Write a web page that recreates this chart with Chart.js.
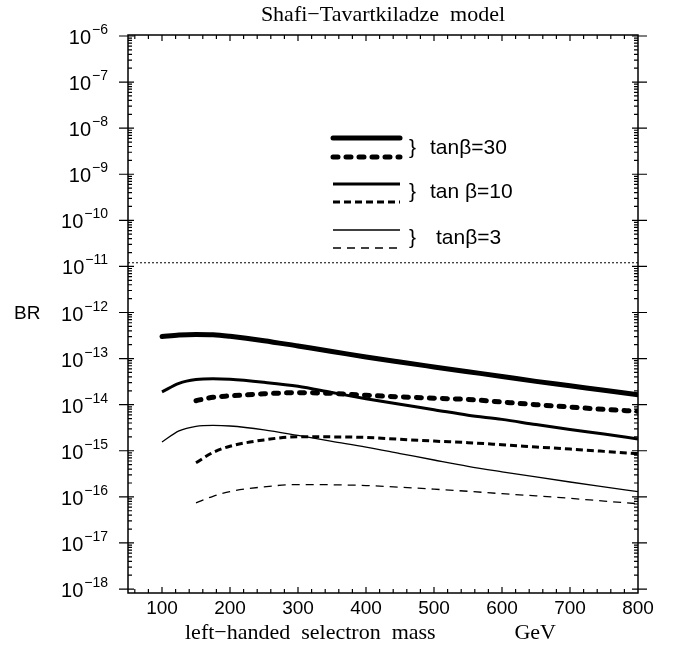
<!DOCTYPE html>
<html>
<head>
<meta charset="utf-8">
<title>Shafi-Tavartkiladze model</title>
<script src="https://cdn.jsdelivr.net/npm/chart.js@4.4.1/dist/chart.umd.min.js"></script>
<style>
  html, body { margin: 0; padding: 0; background: #fff; }
</style>
</head>
<body>
<canvas id="grafico" width="689" height="650"></canvas>
<script>
// selectron mass (GeV)
const masses = [100, 125, 150, 175, 200, 250, 300, 350, 400, 450, 500, 550, 600, 650, 700, 750, 800];

// BR values (null = curve not drawn there)
const tan30Solid  = [3.0e-13, 3.25e-13, 3.35e-13, 3.3e-13, 3.05e-13, 2.45e-13, 1.87e-13, 1.43e-13, 1.08e-13, 8.4e-14, 6.6e-14, 5.2e-14, 4.1e-14, 3.2e-14, 2.57e-14, 2.05e-14, 1.65e-14];
const tan30Dashed = [null, null, 1.22e-14, 1.45e-14, 1.55e-14, 1.72e-14, 1.82e-14, 1.76e-14, 1.6e-14, 1.48e-14, 1.38e-14, 1.3e-14, 1.14e-14, 1.0e-14, 8.9e-15, 7.9e-15, 7.2e-15];
const tan10Solid  = [1.9e-14, 2.9e-14, 3.5e-14, 3.65e-14, 3.55e-14, 3.05e-14, 2.5e-14, 1.83e-14, 1.35e-14, 1.02e-14, 7.8e-15, 5.9e-15, 4.8e-15, 3.7e-15, 2.9e-15, 2.3e-15, 1.8e-15];
const tan10Dashed = [null, null, 5.5e-16, 9.2e-16, 1.25e-15, 1.72e-15, 2.02e-15, 2.0e-15, 1.95e-15, 1.77e-15, 1.62e-15, 1.5e-15, 1.35e-15, 1.21e-15, 1.09e-15, 9.7e-16, 8.6e-16];
const tan3Solid   = [1.55e-15, 2.7e-15, 3.4e-15, 3.55e-15, 3.45e-15, 2.85e-15, 2.15e-15, 1.6e-15, 1.2e-15, 8.7e-16, 6.3e-16, 4.6e-16, 3.5e-16, 2.7e-16, 2.1e-16, 1.65e-16, 1.3e-16];
const tan3Dashed  = [null, null, 7.4e-17, 1.03e-16, 1.3e-16, 1.65e-16, 1.85e-16, 1.83e-16, 1.76e-16, 1.62e-16, 1.47e-16, 1.32e-16, 1.17e-16, 1.05e-16, 9.3e-17, 8.1e-17, 7.1e-17];

// experimental bound (dotted line)
const brLimit = 1.2e-11;
const limitRange = [50, 800];

// axis ticks
const xTickValues = [100, 200, 300, 400, 500, 600, 700, 800];
const yExponents = [-18, -17, -16, -15, -14, -13, -12, -11, -10, -9, -8, -7, -6];

const toPoints = vals => masses
    .map((m, i) => ({ x: m, y: vals[i] }))
    .filter(p => p.y !== null);

const curva = (label, vals, width, dash, cap) => ({
    label: label,
    data: toPoints(vals),
    borderColor: '#000',
    backgroundColor: '#000',
    borderWidth: width,
    borderDash: dash,
    borderCapStyle: cap,
    pointRadius: 0,
    fill: false,
    cubicInterpolationMode: 'monotone'
});

const legendRows = [
    { text: 'tanβ=30', solid: 0, dashed: 1, ySolid: 138, yDashed: 157, yText: 148, xText: 430 },
    { text: 'tan β=10', solid: 2, dashed: 3, ySolid: 184, yDashed: 202, yText: 192, xText: 430 },
    { text: 'tanβ=3', solid: 4, dashed: 5, ySolid: 230, yDashed: 248, yText: 238, xText: 436 }
];

// frame, inward ticks, superscript labels, titles and the bracket legend
const moldura = {
    id: 'moldura',
    afterDraw(chart) {
        const { ctx, chartArea: a, scales: { x, y } } = chart;
        ctx.save();
        ctx.strokeStyle = '#000';
        ctx.fillStyle = '#000';
        ctx.setLineDash([]);
        ctx.lineCap = 'butt';

        ctx.lineWidth = 1.5;
        ctx.strokeRect(a.left, a.top, a.right - a.left, a.bottom - a.top);

        ctx.lineWidth = 1.2;
        ctx.beginPath();
        yExponents.forEach(e => {
            const py = y.getPixelForValue(Math.pow(10, e));
            ctx.moveTo(a.left - 9, py); ctx.lineTo(a.left + 6, py);
            ctx.moveTo(a.right - 6, py); ctx.lineTo(a.right + 9, py);
            if (e < -6) {
                for (let k = 2; k <= 9; k++) {
                    const pm = y.getPixelForValue(k * Math.pow(10, e));
                    ctx.moveTo(a.left, pm); ctx.lineTo(a.left + 4, pm);
                    ctx.moveTo(a.right - 4, pm); ctx.lineTo(a.right, pm);
                }
            }
        });
        for (let v = 60; v < 800; v += 20) {
            const px = x.getPixelForValue(v);
            const len = v % 100 === 0 ? 6 : 4;
            ctx.moveTo(px, a.bottom); ctx.lineTo(px, a.bottom - len);
            ctx.moveTo(px, a.top); ctx.lineTo(px, a.top + len);
        }
        ctx.stroke();

        // y labels 10^n
        ctx.textAlign = 'right';
        ctx.textBaseline = 'alphabetic';
        yExponents.forEach(e => {
            const py = y.getPixelForValue(Math.pow(10, e));
            const exp = '\u2212' + Math.abs(e);
            ctx.font = '14px "Liberation Sans"';
            const w = ctx.measureText(exp).width;
            ctx.fillText(exp, 108, py - 2);
            ctx.font = '20px "Liberation Sans"';
            ctx.fillText('10', 108 - w - 1, py + 8);
        });

        ctx.textAlign = 'left';
        ctx.font = '19px "Liberation Sans"';
        ctx.fillText('BR', 14, 319);

        ctx.textAlign = 'center';
        ctx.font = '22px "Liberation Serif"';
        ctx.fillText('Shafi\u2212Tavartkiladze  model', (a.left + a.right) / 2, 21);

        ctx.textAlign = 'left';
        ctx.fillText('left\u2212handed  selectron  mass', 185, 639);
        ctx.textAlign = 'right';
        ctx.fillText('GeV', 556, 639);

        // legend
        legendRows.forEach(r => {
            [[r.solid, r.ySolid], [r.dashed, r.yDashed]].forEach(([i, ly]) => {
                const ds = chart.data.datasets[i];
                ctx.lineWidth = ds.borderWidth;
                ctx.setLineDash(ds.borderDash);
                ctx.lineCap = ds.borderCapStyle;
                ctx.beginPath();
                ctx.moveTo(333, ly);
                ctx.lineTo(400, ly);
                ctx.stroke();
            });
            ctx.setLineDash([]);
            ctx.textAlign = 'left';
            ctx.textBaseline = 'middle';
            ctx.font = '21px "Liberation Sans"';
            ctx.fillText('}', 409, r.yText);
            ctx.fillText(r.text, r.xText, r.yText);
        });
        ctx.restore();
    }
};

const ctx = document.getElementById('grafico').getContext('2d');

new Chart(ctx, {
    type: 'line',
    data: {
        datasets: [
            curva('tanβ=30', tan30Solid, 5, [], 'round'),
            curva('tanβ=30 dashed', tan30Dashed, 5, [5, 8], 'round'),
            curva('tanβ=10', tan10Solid, 3, [], 'butt'),
            curva('tanβ=10 dashed', tan10Dashed, 3, [7, 4], 'butt'),
            curva('tanβ=3', tan3Solid, 1.3, [], 'butt'),
            curva('tanβ=3 dashed', tan3Dashed, 1.3, [8, 6], 'butt'),
            {
                label: 'limit',
                data: limitRange.map(m => ({ x: m, y: brLimit })),
                borderColor: '#000',
                borderWidth: 1,
                borderDash: [2, 2],
                pointRadius: 0,
                fill: false
            }
        ]
    },
    options: {
        responsive: false,
        animation: false,
        layout: {
            padding: { left: 0, right: 51, top: 35, bottom: 0 }
        },
        plugins: {
            legend: { display: false },
            title: { display: false },
            tooltip: { enabled: false }
        },
        scales: {
            x: {
                type: 'linear',
                min: 50,
                max: 800,
                afterFit: s => { s.height = 57; },
                afterBuildTicks: s => { s.ticks = xTickValues.map(v => ({ value: v })); },
                grid: { display: false, drawTicks: false },
                border: { display: false },
                ticks: {
                    color: '#000',
                    padding: 4,
                    maxRotation: 0,
                    autoSkip: false,
                    font: { family: 'Liberation Sans', size: 19 }
                }
            },
            y: {
                type: 'logarithmic',
                min: 8.2e-19,
                max: 1.05e-6,
                afterFit: s => { s.width = 128; },
                grid: { display: false, drawTicks: false },
                border: { display: false },
                ticks: { display: false }
            }
        }
    },
    plugins: [moldura]
});
</script>
</body>
</html>
